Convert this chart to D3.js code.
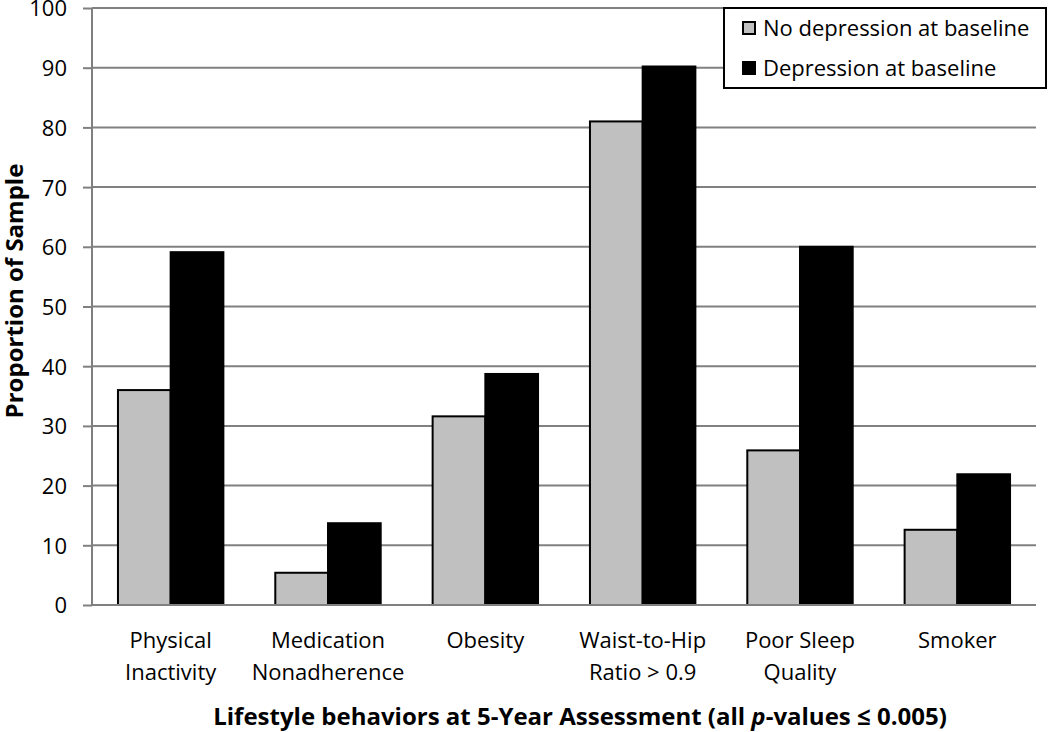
<!DOCTYPE html>
<html><head><meta charset="utf-8">
<script src="https://cdn.jsdelivr.net/npm/d3@7"></script>
<style>body{margin:0;background:#fff}svg{display:block}text{font-family:"Open Sans","Noto Sans",sans-serif}</style>
</head><body>
<svg id="c" width="1050" height="732"></svg>
<script>
const categories = [["Physical","Inactivity"],["Medication","Nonadherence"],["Obesity"],["Waist-to-Hip","Ratio > 0.9"],["Poor Sleep","Quality"],["Smoker"]];
const seriesNames = ["No depression at baseline","Depression at baseline"];
const noDepression = [36, 5.4, 31.6, 81, 25.9, 12.6];
const depression = [59.1, 13.7, 38.7, 90.2, 60, 21.9];
const yTicks = [0,10,20,30,40,50,60,70,80,90,100];
const colors = ["#c0c0c0","#000000"];

const svg = d3.select("#c");
const L=92, R=1036, T=8, B=605;
const x = d3.scaleBand().domain(d3.range(categories.length)).range([L,R]).paddingInner(0.33).paddingOuter(0.165);
const xs = d3.scaleBand().domain([0,1]).range([0,x.bandwidth()]);
const y = d3.scaleLinear().domain([0,100]).range([B,T]);

// gridlines
svg.append("g").selectAll("line").data(yTicks.filter(d=>d>0)).join("line")
  .attr("x1",L).attr("x2",R).attr("y1",d=>y(d)).attr("y2",d=>y(d))
  .attr("stroke","#808080").attr("stroke-width",2);

// y axis
const ya = svg.append("g").attr("transform",`translate(${L},0)`).call(d3.axisLeft(y).tickValues(yTicks).tickSize(9).tickPadding(16));
ya.select(".domain").attr("stroke","#808080").attr("stroke-width",2).attr("d",`M0,${B}V${T}`);
ya.selectAll(".tick line").attr("stroke","#808080").attr("stroke-width",2);
ya.selectAll(".tick text").attr("font-size",22).attr("fill","#000").attr("font-family","Open Sans").attr("dy","0.36em");

// bars
const data = categories.map((c,i)=>[noDepression[i],depression[i]]);
const g = svg.append("g");
data.forEach((vals,i)=>{
  g.selectAll(null).data(vals).join("rect")
   .attr("x",(d,j)=>x(i)+xs(j)).attr("width",xs.bandwidth())
   .attr("y",d=>y(d)).attr("height",d=>B-y(d))
   .attr("fill",(d,j)=>colors[j]).attr("stroke","#000").attr("stroke-width",2);
});

// x baseline
svg.append("line").attr("x1",L).attr("x2",R).attr("y1",B).attr("y2",B).attr("stroke","#808080").attr("stroke-width",2);

// category labels
categories.forEach((c,i)=>{
  const t = svg.append("text").attr("text-anchor","middle").attr("font-size",22).attr("fill","#000")
    .attr("x",x(i)+x.bandwidth()/2);
  c.forEach((line,k)=>t.append("tspan").attr("x",x(i)+x.bandwidth()/2).attr("y",648+k*32).text(line));
});

// axis titles
svg.append("text").attr("transform","translate(23,291) rotate(-90)").attr("text-anchor","middle")
  .attr("font-size",24).attr("font-weight","bold").text("Proportion of Sample");
const xt = svg.append("text").attr("x",580).attr("y",725).attr("text-anchor","middle").attr("font-size",24).attr("font-weight","bold");
xt.append("tspan").text("Lifestyle behaviors at 5-Year Assessment (all ");
xt.append("tspan").attr("font-style","italic").text("p");
xt.append("tspan").text("-values ≤ 0.005)");

// legend
const lg = svg.append("g");
lg.append("rect").attr("x",724).attr("y",8).attr("width",322).attr("height",80).attr("fill","#fff").attr("stroke","#000").attr("stroke-width",2);
seriesNames.forEach((n,j)=>{
  lg.append("rect").attr("x",743).attr("y",22+j*40).attr("width",12).attr("height",12).attr("fill",colors[j]).attr("stroke","#000").attr("stroke-width",2);
  lg.append("text").attr("x",763).attr("y",36+j*40).attr("font-size",22).text(n);
});
</script>
</body></html>
